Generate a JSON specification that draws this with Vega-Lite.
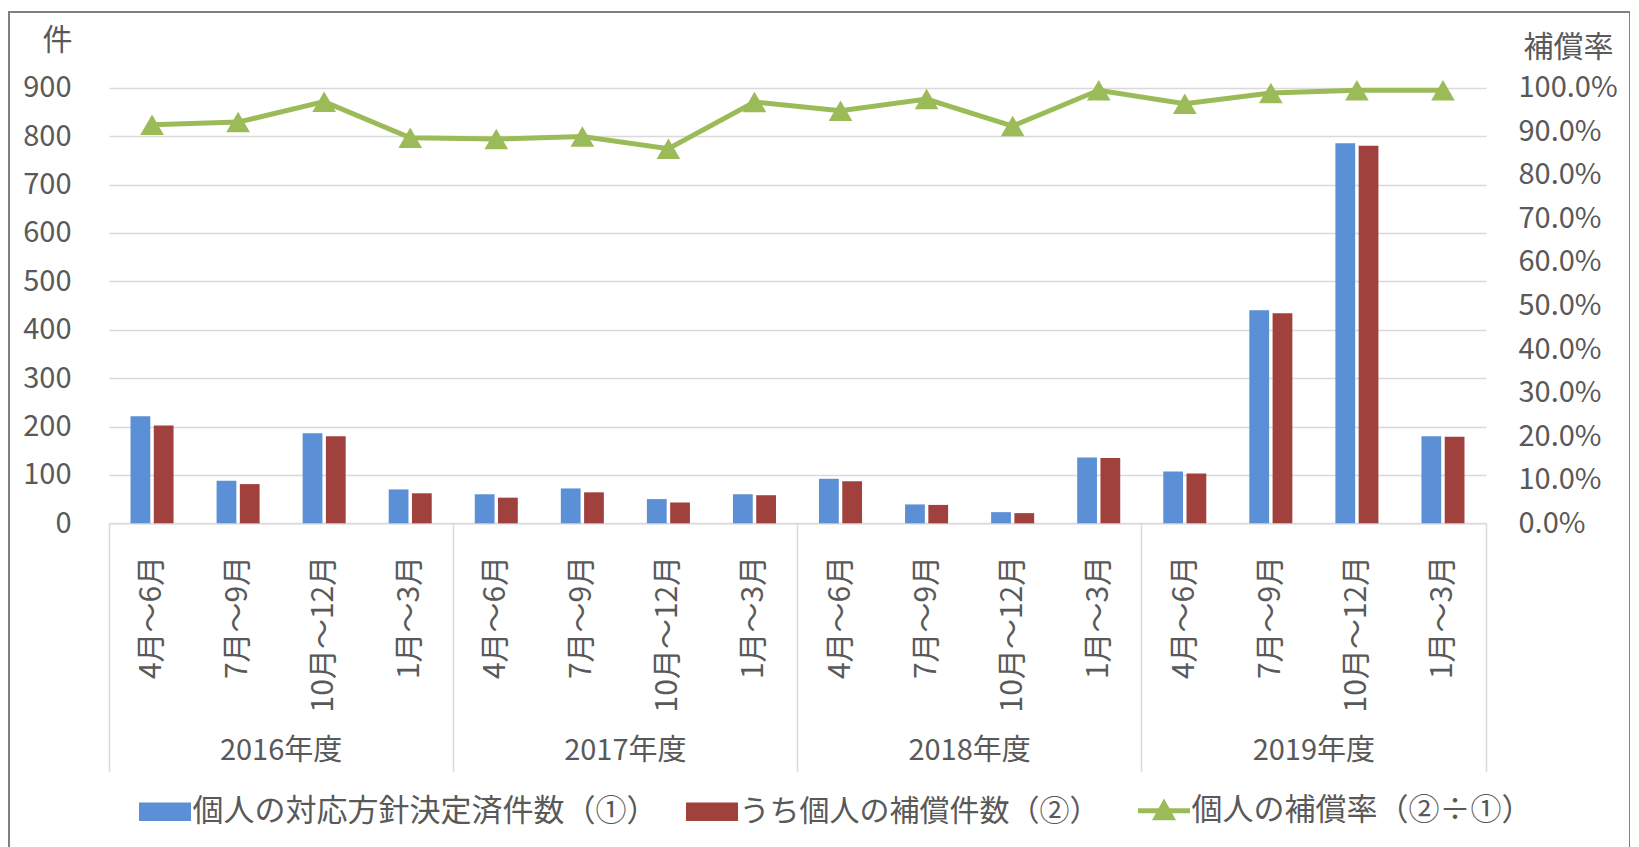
{
  "$schema": "https://vega.github.io/schema/vega-lite/v6.json",
  "width": 1621,
  "height": 840,
  "autosize": "none",
  "padding": {"left": 9, "top": 12, "right": 0, "bottom": 0},
  "background": "white",
  "config": {
    "font": "Noto Sans CJK JP",
    "view": {"stroke": "#808080", "strokeWidth": 2},
    "axis": {"labelColor": "#595959", "titleColor": "#595959", "labelFont": "Noto Sans CJK JP", "titleFont": "Noto Sans CJK JP"},
    "legend": {"labelColor": "#595959", "labelFont": "Noto Sans CJK JP"}
  },
  "datasets": {
    "bars": [
      {"cat": "2016年度|4月～6月", "series": "個人の対応方針決定済件数（①）", "value": 221},
      {"cat": "2016年度|4月～6月", "series": "うち個人の補償件数（②）", "value": 202},
      {"cat": "2016年度|7月～9月", "series": "個人の対応方針決定済件数（①）", "value": 88},
      {"cat": "2016年度|7月～9月", "series": "うち個人の補償件数（②）", "value": 81},
      {"cat": "2016年度|10月～12月", "series": "個人の対応方針決定済件数（①）", "value": 186},
      {"cat": "2016年度|10月～12月", "series": "うち個人の補償件数（②）", "value": 180},
      {"cat": "2016年度|1月～3月", "series": "個人の対応方針決定済件数（①）", "value": 70},
      {"cat": "2016年度|1月～3月", "series": "うち個人の補償件数（②）", "value": 62},
      {"cat": "2017年度|4月～6月", "series": "個人の対応方針決定済件数（①）", "value": 60},
      {"cat": "2017年度|4月～6月", "series": "うち個人の補償件数（②）", "value": 53},
      {"cat": "2017年度|7月～9月", "series": "個人の対応方針決定済件数（①）", "value": 72},
      {"cat": "2017年度|7月～9月", "series": "うち個人の補償件数（②）", "value": 64},
      {"cat": "2017年度|10月～12月", "series": "個人の対応方針決定済件数（①）", "value": 50},
      {"cat": "2017年度|10月～12月", "series": "うち個人の補償件数（②）", "value": 43},
      {"cat": "2017年度|1月～3月", "series": "個人の対応方針決定済件数（①）", "value": 60},
      {"cat": "2017年度|1月～3月", "series": "うち個人の補償件数（②）", "value": 58},
      {"cat": "2018年度|4月～6月", "series": "個人の対応方針決定済件数（①）", "value": 92},
      {"cat": "2018年度|4月～6月", "series": "うち個人の補償件数（②）", "value": 87},
      {"cat": "2018年度|7月～9月", "series": "個人の対応方針決定済件数（①）", "value": 39},
      {"cat": "2018年度|7月～9月", "series": "うち個人の補償件数（②）", "value": 38},
      {"cat": "2018年度|10月～12月", "series": "個人の対応方針決定済件数（①）", "value": 23},
      {"cat": "2018年度|10月～12月", "series": "うち個人の補償件数（②）", "value": 21},
      {"cat": "2018年度|1月～3月", "series": "個人の対応方針決定済件数（①）", "value": 136},
      {"cat": "2018年度|1月～3月", "series": "うち個人の補償件数（②）", "value": 135},
      {"cat": "2019年度|4月～6月", "series": "個人の対応方針決定済件数（①）", "value": 107},
      {"cat": "2019年度|4月～6月", "series": "うち個人の補償件数（②）", "value": 103},
      {"cat": "2019年度|7月～9月", "series": "個人の対応方針決定済件数（①）", "value": 440},
      {"cat": "2019年度|7月～9月", "series": "うち個人の補償件数（②）", "value": 434},
      {"cat": "2019年度|10月～12月", "series": "個人の対応方針決定済件数（①）", "value": 785},
      {"cat": "2019年度|10月～12月", "series": "うち個人の補償件数（②）", "value": 780},
      {"cat": "2019年度|1月～3月", "series": "個人の対応方針決定済件数（①）", "value": 180},
      {"cat": "2019年度|1月～3月", "series": "うち個人の補償件数（②）", "value": 179}
    ],
    "rate": [
      {"cat": "2016年度|4月～6月", "series": "個人の補償率（②÷①）", "rate": 0.915},
      {"cat": "2016年度|7月～9月", "series": "個人の補償率（②÷①）", "rate": 0.921},
      {"cat": "2016年度|10月～12月", "series": "個人の補償率（②÷①）", "rate": 0.968},
      {"cat": "2016年度|1月～3月", "series": "個人の補償率（②÷①）", "rate": 0.885},
      {"cat": "2017年度|4月～6月", "series": "個人の補償率（②÷①）", "rate": 0.882},
      {"cat": "2017年度|7月～9月", "series": "個人の補償率（②÷①）", "rate": 0.888},
      {"cat": "2017年度|10月～12月", "series": "個人の補償率（②÷①）", "rate": 0.860},
      {"cat": "2017年度|1月～3月", "series": "個人の補償率（②÷①）", "rate": 0.967},
      {"cat": "2018年度|4月～6月", "series": "個人の補償率（②÷①）", "rate": 0.947},
      {"cat": "2018年度|7月～9月", "series": "個人の補償率（②÷①）", "rate": 0.974},
      {"cat": "2018年度|10月～12月", "series": "個人の補償率（②÷①）", "rate": 0.912},
      {"cat": "2018年度|1月～3月", "series": "個人の補償率（②÷①）", "rate": 0.994},
      {"cat": "2019年度|4月～6月", "series": "個人の補償率（②÷①）", "rate": 0.963},
      {"cat": "2019年度|7月～9月", "series": "個人の補償率（②÷①）", "rate": 0.988},
      {"cat": "2019年度|10月～12月", "series": "個人の補償率（②÷①）", "rate": 0.994},
      {"cat": "2019年度|1月～3月", "series": "個人の補償率（②÷①）", "rate": 0.994}
    ]
  },
  "layer": [
    {
      "data": {"name": "bars"},
      "mark": {"type": "bar"},
      "encoding": {
        "x": {
          "field": "cat", "type": "nominal", "sort": null,
          "scale": {"range": [100, 1477], "paddingInner": 0, "paddingOuter": 0},
          "axis": {
            "orient": "bottom", "offset": -328.7, "title": null,
            "bandPosition": 0, "labelOffset": 0,
            "labelExpr": "split(datum.value, '|')[1]",
            "labelAngle": 270, "labelAlign": "right", "labelBaseline": "middle",
            "labelFontSize": 30, "labelPadding": -216, "labelOverlap": false, "labelBound": false, "labelFlush": false,
            "ticks": true, "tickSize": 248, "tickColor": "#d9d9d9", "tickWidth": 1.5,
            "tickOpacity": {"condition": {"test": "datum.value === '2016年度|4月～6月'", "value": 1}, "value": 0},
            "domain": true, "domainColor": "#d9d9d9", "domainWidth": 1.5, "grid": false
          }
        },
        "xOffset": {"field": "series", "type": "nominal", "sort": null, "scale": {"paddingInner": 0.15, "paddingOuter": 0.925}},
        "y": {
          "field": "value", "type": "quantitative",
          "scale": {"domain": [0, 900], "range": [511.3, 75.7], "nice": false, "zero": true},
          "axis": {
            "orient": "left", "offset": -100, "values": [0, 100, 200, 300, 400, 500, 600, 700, 800, 900],
            "title": "件", "titleAngle": 0, "titleX": -52, "titleY": 28, "titleAlign": "center", "titleBaseline": "middle",
            "titleFontSize": 30, "titleFontWeight": "normal",
            "labelFontSize": 29, "labelPadding": 38, "ticks": false, "domain": false,
            "grid": true, "gridColor": "#d9d9d9", "gridWidth": 1.5
          }
        },
        "color": {
          "field": "series", "type": "nominal",
          "scale": {
            "domain": ["個人の対応方針決定済件数（①）", "うち個人の補償件数（②）", "個人の補償率（②÷①）"],
            "range": ["#5b8fd6", "#a0413e", "#9bbb59"]
          },
          "legend": {
            "orient": "none", "legendX": 140.5, "legendY": 783, "direction": "horizontal",
            "title": null, "padding": 0, "columnPadding": 28, "symbolSize": 2704,
            "labelFontSize": 31, "labelOffset": 12, "labelLimit": 800,
            "encode": {
              "labels": {
                "update": {
                  "fontSize": {"signal": "datum.value === 'うち個人の補償件数（②）' ? 30 : 31"}
                }
              },
              "symbols": {
                "update": {
                  "shape": {"signal": "datum.value === '個人の補償率（②÷①）' ? 'M-1,0H1M-0.3,0.27L0,-0.27L0.3,0.27Z' : 'M-1,-0.36H1V0.36H-1Z'"},
                  "fill": {"signal": "scale('color', datum.value)"},
                  "stroke": {"signal": "scale('color', datum.value)"},
                  "strokeWidth": {"signal": "datum.value === '個人の補償率（②÷①）' ? 5 : 0"},
                  "opacity": {"value": 1},
                  "fillOpacity": {"value": 1}
                }
              }
            }
          }
        }
      }
    },
    {
      "data": {"name": "rate"},
      "mark": {"type": "line", "strokeWidth": 5, "point": {"shape": "triangle-up", "size": 560, "filled": true, "opacity": 1}},
      "encoding": {
        "x": {
          "field": "cat", "type": "nominal", "sort": null,
          "scale": {"range": [100, 1477], "paddingInner": 0, "paddingOuter": 0},
          "axis": {
            "orient": "bottom", "offset": -328.7, "title": null,
            "bandPosition": 1, "labelOffset": 43,
            "labelExpr": "split(datum.value, '|')[1] === '7月～9月' ? split(datum.value, '|')[0] : ''",
            "labelAngle": 0, "labelAlign": "center", "labelBaseline": "middle",
            "labelFontSize": 29, "labelPadding": -21, "labelOverlap": false, "labelBound": false, "labelFlush": false,
            "ticks": true, "tickSize": 248, "tickColor": "#d9d9d9", "tickWidth": 1.5,
            "tickOpacity": {"condition": {"test": "split(datum.value, '|')[1] === '1月～3月'", "value": 1}, "value": 0},
            "domain": false, "grid": false
          }
        },
        "y": {
          "field": "rate", "type": "quantitative",
          "scale": {"domain": [0, 1], "range": [511.3, 75.7], "nice": false, "zero": true},
          "axis": {
            "orient": "right", "offset": -144, "values": [0, 0.1, 0.2, 0.3, 0.4, 0.5, 0.6, 0.7, 0.8, 0.9, 1.0], "format": ".1%",
            "title": "補償率", "titleAngle": 0, "titleX": 82, "titleY": 35, "titleAlign": "center", "titleBaseline": "middle",
            "titleFontSize": 30, "titleFontWeight": "normal",
            "labelFontSize": 29, "labelPadding": 32, "ticks": false, "domain": false, "grid": false
          }
        },
        "color": {"field": "series", "type": "nominal"}
      }
    }
  ],
  "resolve": {"scale": {"y": "independent"}, "axis": {"x": "independent", "y": "independent"}}
}
